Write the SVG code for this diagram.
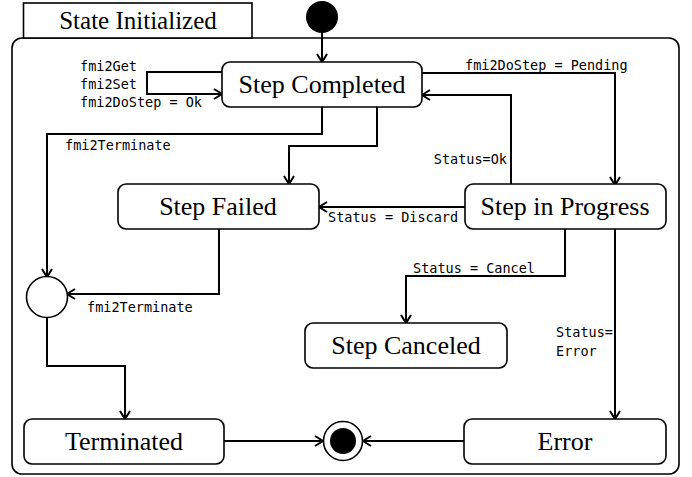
<svg xmlns="http://www.w3.org/2000/svg" width="692" height="477" viewBox="0 0 692 477">
<style>
.box{fill:#fff;stroke:#000;stroke-width:1.6}
.st{font-family:"Liberation Serif",serif;font-size:26px;fill:#000;text-anchor:middle}
.lb{font-family:"DejaVu Sans Mono",monospace;font-size:13.5px;fill:#000}
.ln{fill:none;stroke:#000;stroke-width:2;marker-end:url(#ah)}
</style>
<defs>
<marker id="ah" markerUnits="userSpaceOnUse" markerWidth="14" markerHeight="14" refX="11" refY="6" orient="auto">
<path d="M3,1 L11,6 L3,11" fill="none" stroke="#000" stroke-width="2"/>
</marker>
</defs>
<g id="container">
<rect x="12" y="38" width="667" height="436" rx="10" class="box"/>
<rect x="23.5" y="3" width="228.5" height="35" fill="#fff" stroke="#000" stroke-width="1.6"/>
<text x="138" y="29" class="st" style="font-size:25px">State Initialized</text>
</g>
<g id="connectors">
<path class="ln" d="M322,33 V62"/>
<path class="ln" d="M222,72 H147 V94 H222"/>
<path class="ln" d="M422,73 H615 V185"/>
<path class="ln" d="M511,185 V95 H422"/>
<path class="ln" d="M322,107 V134 H47 V277"/>
<path class="ln" d="M377,107 V146 H289 V184"/>
<path class="ln" d="M465,207 H319"/>
<path class="ln" d="M219,229 V294 H67"/>
<path class="ln" d="M565,229 V276 H406 V323"/>
<path class="ln" d="M615,229 V419"/>
<path class="ln" d="M47,318 V366 H125 V419"/>
<path class="ln" d="M224,441 H323"/>
<path class="ln" d="M464,441 H363"/>
<text x="80" y="71" class="lb">fmi2Get</text>
<text x="80" y="89" class="lb">fmi2Set</text>
<text x="80" y="107" class="lb">fmi2DoStep = Ok</text>
<text x="465" y="70" class="lb">fmi2DoStep = Pending</text>
<text x="65" y="150" class="lb">fmi2Terminate</text>
<text x="507" y="164" class="lb" text-anchor="end">Status=Ok</text>
<text x="328" y="222" class="lb">Status = Discard</text>
<text x="87" y="312" class="lb">fmi2Terminate</text>
<text x="413" y="273" class="lb">Status = Cancel</text>
<text x="556" y="337" class="lb">Status=</text>
<text x="556" y="356" class="lb">Error</text>
</g>
<g id="initial"><circle cx="322" cy="17" r="16" fill="#000"/></g>
<g id="step-completed"><rect x="222" y="62" width="200" height="45" rx="8" class="box"/><text x="322" y="93" class="st">Step Completed</text></g>
<g id="step-failed"><rect x="118" y="184" width="201" height="45" rx="8" class="box"/><text x="218" y="215" class="st">Step Failed</text></g>
<g id="step-in-progress"><rect x="465" y="184" width="201" height="45" rx="8" class="box"/><text x="565" y="215" class="st">Step in Progress</text></g>
<g id="junction"><circle cx="47" cy="297" r="20.5" class="box"/></g>
<g id="step-canceled"><rect x="305" y="323" width="202" height="45" rx="8" class="box"/><text x="406" y="354" class="st">Step Canceled</text></g>
<g id="terminated"><rect x="24" y="419" width="200" height="45" rx="8" class="box"/><text x="124" y="450" class="st">Terminated</text></g>
<g id="error"><rect x="464" y="419" width="202" height="45" rx="8" class="box"/><text x="565" y="450" class="st">Error</text></g>
<g id="final"><circle cx="343" cy="441" r="19.5" class="box"/><circle cx="343" cy="441" r="13" fill="#000"/></g>
</svg>
